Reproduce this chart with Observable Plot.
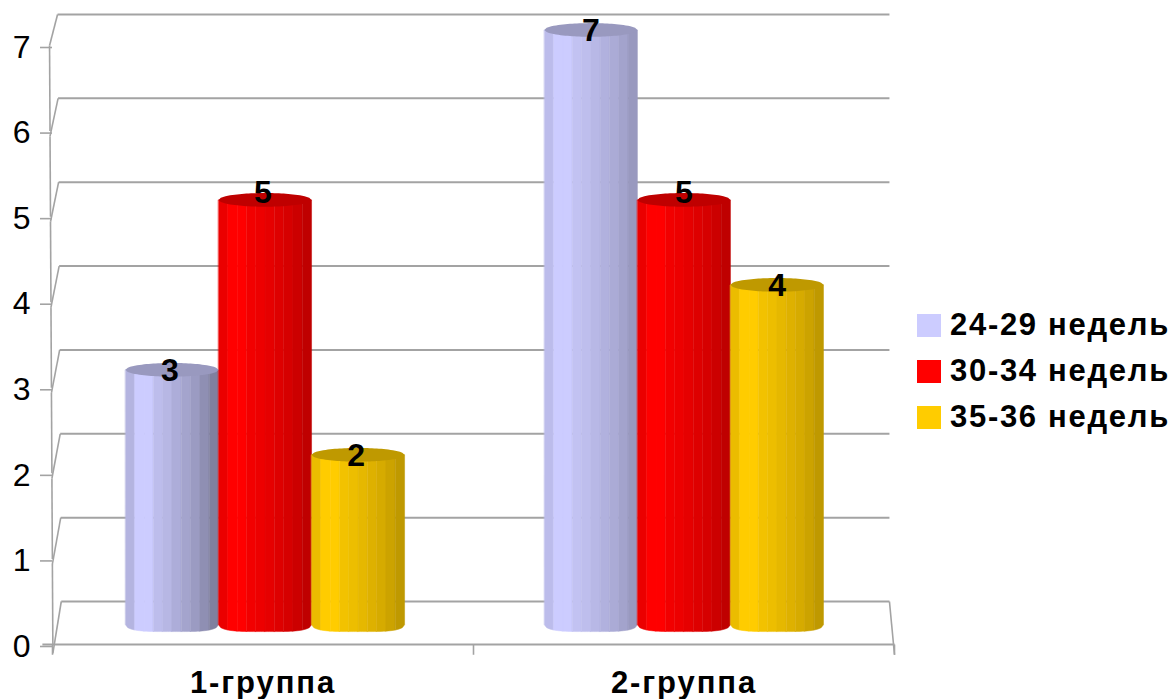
<!DOCTYPE html>
<html>
<head>
<meta charset="utf-8">
<script src="https://cdn.jsdelivr.net/npm/d3@7"></script>
<script src="https://cdn.jsdelivr.net/npm/@observablehq/plot@0.6"></script>
<style>
  html, body { margin: 0; background: #fff; }
  #page { position: relative; width: 1173px; height: 699px; overflow: hidden; font-family: "Liberation Sans", Arial, sans-serif; }
  #legend { position: absolute; left: 917px; top: 302px; }
  .entry { display: flex; align-items: center; height: 46px; font-weight: bold; font-size: 31px; letter-spacing: 1.7px; color: #000; white-space: nowrap; }
  .swatch { width: 24px; height: 23px; margin-right: 9px; flex: none; }
  svg text { font-family: "Liberation Sans", Arial, sans-serif; }
</style>
</head>
<body>
<div id="page"><div id="legend"></div></div>
<script>
const groups = ["1-группа", "2-группа"];
const seriesNames = ["24-29 недель", "30-34 недель", "35-36 недель"];
const seriesColors = ["#ccccff", "#ff0000", "#ffcc00"];
const weeks24to29 = [3, 7];
const weeks30to34 = [5, 5];
const weeks35to36 = [2, 4];
const seriesValues = [weeks24to29, weeks30to34, weeks35to36];
const yTicks = [0, 1, 2, 3, 4, 5, 6, 7];
const groupBoundaries = [0, 1, 2];

// Oblique projection of the 3D scene, in units of the x and y scales.
const barWidth = 0.221;
const capRadiusY = 0.08;
const barLift = 0.225, barTilt = 0.993;
const wallLift = 0.5025, wallTilt = 0.98;
const wallLeft = 0.012, wallRight = 1.988;
const groupCenters = [0.506, 1.501];
const barY = (v) => barLift + barTilt * v;
const wallY = (v) => wallLift + wallTilt * v;
const frontX = (v) => -0.007 + 0.0014 * (7 - v) * 0.8;
const backX = (v) => wallLeft + 0.0014 * (7 - v) * 0.9;

// Shading of the cylinder's facets, left to right, relative to the base colour.
const facetShade = [0.92, 1, 1, 0.95, 0.93, 0.9, 0.87, 0.84, 0.8, 0.75];
const shaded = (color, k) => {
  const c = d3.rgb(color);
  return d3.rgb(c.r * k, c.g * k, c.b * k).formatHex();
};

const bars = groups.flatMap((group, g) =>
  seriesNames.map((name, s) => ({
    id: `${g}-${s}`,
    cx: groupCenters[g] + (s - 1) * barWidth,
    labelX: g + 0.5 + (s - 1) * barWidth,
    value: seriesValues[s][g],
    color: seriesColors[s],
    labelLift: s === 1 ? 0.094 : 0,
    // The first cylinder falls off more steeply towards its right edge.
    falloff: g === 0 && s === 0 ? 1.5 : 1
  }))
);

const arc = (t) => Math.sqrt(Math.max(0, 1 - t * t));
const baseArc = (t) => Math.sqrt(Math.max(0, 1 - t * t * t * t));

const facets = bars.flatMap((b) =>
  facetShade.flatMap((k, i) => {
    const from = -1 + (2 * i) / facetShade.length;
    const to = -1 + (2 * (i + 1)) / facetShade.length;
    return d3.range(5).map((j) => {
      const t = from + ((to - from) * j) / 4;
      return {
        id: `${b.id}-${i}`,
        x: b.cx + (t * barWidth) / 2,
        yBottom: barY(0) - capRadiusY * baseArc(t),
        yTop: barY(b.value),
        fill: shaded(b.color, 1 - (1 - k) * b.falloff)
      };
    });
  })
);

const caps = bars.flatMap((b) =>
  d3.range(41).map((j) => {
    const t = -1 + j / 20;
    return {
      id: b.id,
      x: b.cx + (t * barWidth) / 2,
      y1: barY(b.value) - capRadiusY * arc(t),
      y2: barY(b.value) + capRadiusY * arc(t),
      fill: shaded(b.color, 0.75)
    };
  })
);

const wallLines = yTicks.map((v) => ({
  x1: backX(v), x2: wallRight, y1: wallY(v), y2: wallY(v)
}));
const wallSlants = yTicks.map((v) => ({
  x1: frontX(v), x2: backX(v),
  y1: v === 0 ? -0.105 : v === 7 ? 7 : v - 0.06,
  y2: wallY(v)
}));
const wallUprights = yTicks.slice(1).map((v) => ({
  x1: frontX(v), x2: frontX(v - 1),
  y1: v === 7 ? v : v - 0.06,
  y2: v - 1
}));
const rightEdge = [{ x1: wallRight, x2: 2, y1: wallY(0), y2: -0.12 }];
const floorFront = [{ x1: -0.024, x2: 2, y1: 0, y2: 0 }];
const groupTicks = groupBoundaries.map((g) => ({ x1: g, x2: g, y1: 0, y2: -0.12 }));
const linkChannels = { x1: "x1", x2: "x2", y1: "y1", y2: "y2", stroke: "#a3a3a3" };

const chart = Plot.plot({
  width: 905,
  height: 699,
  marginLeft: 52,
  marginRight: 11,
  marginTop: 45,
  marginBottom: 55,
  style: { background: "#fff", overflow: "visible" },
  color: { type: "identity" },
  x: { type: "linear", domain: [0, 2], axis: null },
  y: { type: "linear", domain: [0, 7] },
  marks: [
    Plot.link(wallLines, { ...linkChannels, strokeWidth: 2 }),
    Plot.link(wallSlants, { ...linkChannels, strokeWidth: 1.6 }),
    Plot.link(wallUprights, { ...linkChannels, strokeWidth: 1.6 }),
    Plot.link(rightEdge, { ...linkChannels, strokeWidth: 1.6 }),
    Plot.link(floorFront, { ...linkChannels, strokeWidth: 2 }),
    Plot.link(groupTicks, { ...linkChannels, strokeWidth: 1.6 }),
    Plot.axisY({
      ticks: yTicks, tickSize: 12, tickPadding: 10, label: null, fontSize: 32, dy: 2,
      stroke: "#a3a3a3", strokeWidth: 1.6, color: "#000", fill: "#000", tickFormat: (d) => String(d)
    }),
    Plot.text(groups, {
      x: (d, i) => i + 0.5, y: () => 0, text: (d) => d, dy: 39, fontSize: 31,
      fontWeight: "bold", fill: "#000", lineAnchor: "middle"
    }),
    Plot.area(facets, { x1: "x", y1: "yBottom", y2: "yTop", z: "id", fill: "fill", stroke: "fill", strokeWidth: 0.5 }),
    Plot.area(caps, { x1: "x", y1: "y1", y2: "y2", z: "id", fill: "fill" }),
    Plot.text(bars, {
      x: "labelX", y: (d) => barY(d.value) + d.labelLift, text: (d) => String(d.value),
      fontSize: 32, fontWeight: "bold", fill: "#000", lineAnchor: "middle"
    })
  ]
});
// The group names are set a little wider than the default tracking.
d3.select(chart).selectAll("text")
  .filter(function () { return groups.includes(this.textContent); })
  .style("letter-spacing", "1.9px");
document.getElementById("page").prepend(chart);

const legend = d3.select("#legend");
seriesNames.forEach((name, i) => {
  const row = legend.append("div").attr("class", "entry");
  row.append("span").attr("class", "swatch").style("background", seriesColors[i]);
  row.append("span").text(name);
});
</script>
</body>
</html>
